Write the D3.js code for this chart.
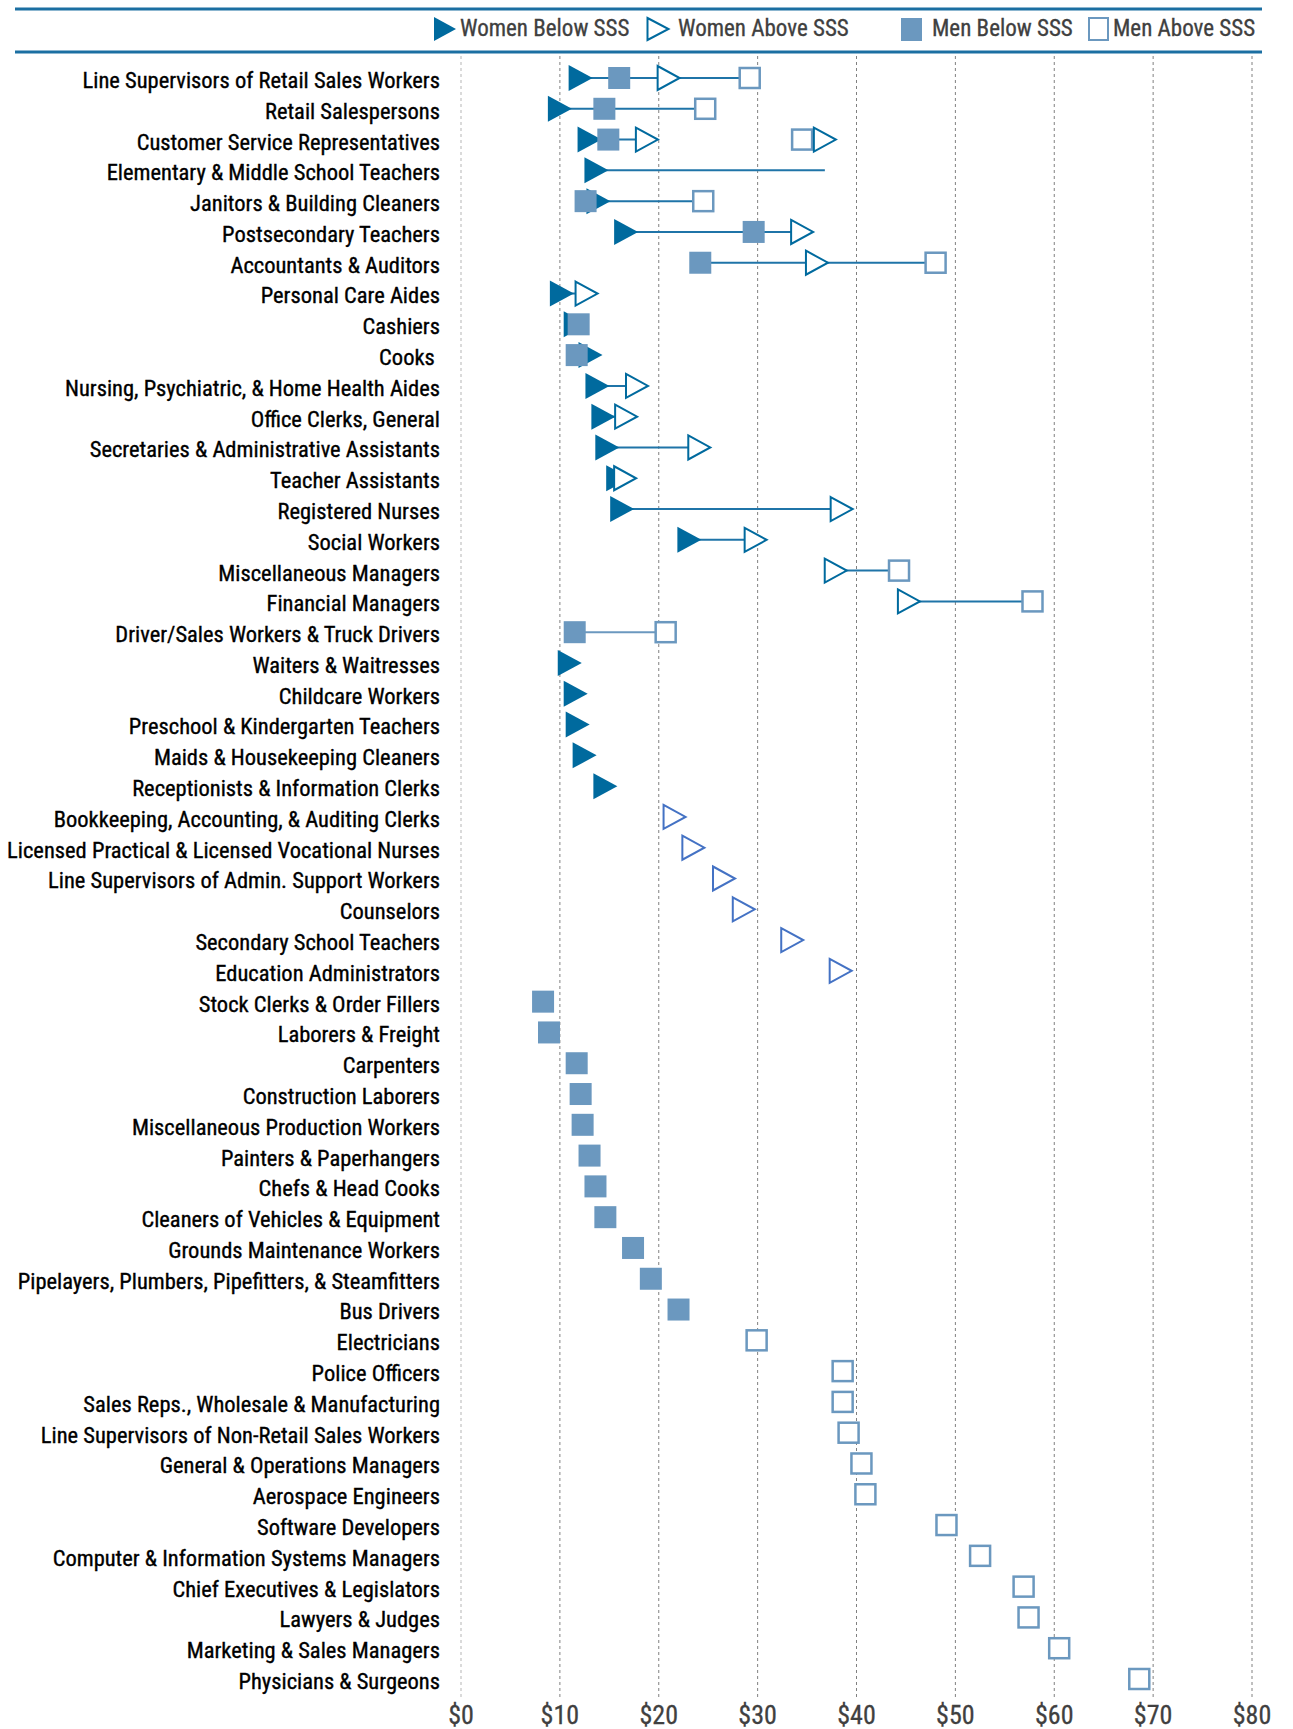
<!DOCTYPE html>
<html>
<head>
<meta charset="utf-8">
<script src="https://cdn.jsdelivr.net/npm/d3@7"></script>
<style>
  body { margin: 0; background: #fff; }
  svg text { font-family: "Liberation Sans Narrow", "Roboto Condensed", "DejaVu Sans Condensed", "Liberation Sans", sans-serif; }
</style>
</head>
<body>
<div id="chart"></div>
<script>
// occupations, top to bottom
const categories = [
  "Line Supervisors of Retail Sales Workers", "Retail Salespersons", "Customer Service Representatives",
  "Elementary & Middle School Teachers", "Janitors & Building Cleaners", "Postsecondary Teachers",
  "Accountants & Auditors", "Personal Care Aides", "Cashiers", "Cooks ",
  "Nursing, Psychiatric, & Home Health Aides", "Office Clerks, General", "Secretaries & Administrative Assistants",
  "Teacher Assistants", "Registered Nurses", "Social Workers", "Miscellaneous Managers", "Financial Managers",
  "Driver/Sales Workers & Truck Drivers", "Waiters & Waitresses", "Childcare Workers",
  "Preschool & Kindergarten Teachers", "Maids & Housekeeping Cleaners", "Receptionists & Information Clerks",
  "Bookkeeping, Accounting, & Auditing Clerks", "Licensed Practical & Licensed Vocational Nurses",
  "Line Supervisors of Admin. Support Workers", "Counselors", "Secondary School Teachers",
  "Education Administrators", "Stock Clerks & Order Fillers", "Laborers & Freight", "Carpenters",
  "Construction Laborers", "Miscellaneous Production Workers", "Painters & Paperhangers", "Chefs & Head Cooks",
  "Cleaners of Vehicles & Equipment", "Grounds Maintenance Workers",
  "Pipelayers, Plumbers, Pipefitters, & Steamfitters", "Bus Drivers", "Electricians", "Police Officers",
  "Sales Reps., Wholesale & Manufacturing", "Line Supervisors of Non-Retail Sales Workers",
  "General & Operations Managers", "Aerospace Engineers", "Software Developers",
  "Computer & Information Systems Managers", "Chief Executives & Legislators", "Lawyers & Judges",
  "Marketing & Sales Managers", "Physicians & Surgeons"
];

// hourly wages ($), aligned with categories, null = no marker
const womenBelow = [12.1, 10.0, 13.0, 13.7, 13.9, 16.7, null, 10.2, 11.6, 13.1,
  13.8, 14.4, 14.8, 15.9, 16.3, 23.1, null, null, null, 11.0,
  11.6, 11.8, 12.5, 14.6];
const womenAbove = [21.0, null, [18.8, 36.8], null, null, 34.5, 36.0, 12.7, null, null,
  17.8, 16.7, 24.1, 16.6, 38.5, 29.8, 37.9, 45.3];
// women-only rows further down (drawn in a lighter blue)
const womenAboveOther = [null, null, null, null, null, null, null, null, null, null,
  null, null, null, null, null, null, null, null, null, null,
  null, null, null, null, 21.6, 23.5, 26.6, 28.6, 33.5, 38.4];
const menBelow = [16.0, 14.5, 14.9, null, 12.6, 29.6, 24.2, null, 11.9, 11.7,
  null, null, null, null, null, null, null, null, 11.5, null,
  null, null, null, null, null, null, null, null, null, null,
  8.3, 8.9, 11.7, 12.1, 12.3, 13.0, 13.6, 14.6, 17.4, 19.2, 22.0];
const menAbove = [29.2, 24.7, 34.5, null, 24.5, null, 48.0, null, null, null,
  null, null, null, null, null, null, 44.3, 57.8, 20.7, null,
  null, null, null, null, null, null, null, null, null, null,
  null, null, null, null, null, null, null, null, null, null,
  null, 29.9, 38.6, 38.6, 39.2, 40.5, 40.9, 49.1, 52.5, 56.9, 57.4, 60.5, 68.6];
// connecting line per row [from, to]
const gapLines = [[12.1, 29.2], [10.0, 24.7], [13.0, 18.8], [13.7, 36.8], [12.6, 24.5], [16.7, 34.5],
  [24.2, 48.0], [10.2, 12.7], null, [11.7, 13.1], [13.8, 17.8], [14.4, 16.7], [14.8, 24.1],
  [15.9, 16.6], [16.3, 38.5], [23.1, 29.8], [37.9, 44.3], [45.3, 57.8], [11.5, 20.7]];

const xTicks = [0, 10, 20, 30, 40, 50, 60, 70, 80];
const legendLabels = ["Women Below SSS", "Women Above SSS", "Men Below SSS", "Men Above SSS"];

const W = 1293, H = 1729;
const womenColor = "#006a9e", menColor = "#6b98bf", otherColor = "#4472c4";

const svg = d3.select("#chart").append("svg")
  .attr("width", W).attr("height", H);

const x = d3.scaleLinear().domain([0, 80]).range([461, 1252]);
const y = d3.scalePoint().domain(categories).range([78, 1679]);

// flatten a series into points
function points(arr) {
  let out = [];
  arr.forEach(function(v, i) {
    if (v === null || v === undefined) return;
    [].concat(v).forEach(function(val) { out.push({ cat: categories[i], v: val }); });
  });
  return out;
}

function triPath(cx, cy, w, h) {
  return "M" + (cx - w / 2) + "," + (cy - h / 2) + "L" + (cx + w / 2) + "," + cy +
    "L" + (cx - w / 2) + "," + (cy + h / 2) + "Z";
}

// header rules
svg.append("line").attr("x1", 15).attr("x2", 1262).attr("y1", 9).attr("y2", 9)
  .attr("stroke", "#1b6fa2").attr("stroke-width", 3);
svg.append("line").attr("x1", 15).attr("x2", 1262).attr("y1", 52).attr("y2", 52)
  .attr("stroke", "#1b6fa2").attr("stroke-width", 3);

// gridlines
svg.append("g").selectAll("line").data(xTicks).join("line")
  .attr("x1", d => x(d)).attr("x2", d => x(d))
  .attr("y1", 56).attr("y2", 1697)
  .attr("stroke", d => d === 0 ? "#b5b5b5" : "#808080")
  .attr("stroke-width", 1)
  .attr("stroke-dasharray", "3,3");

// x axis labels
svg.append("g").selectAll("text").data(xTicks).join("text")
  .attr("x", d => x(d)).attr("y", 1724)
  .attr("text-anchor", "middle")
  .attr("font-size", 26)
  .attr("fill", "#404040")
  .attr("stroke", "#404040").attr("stroke-width", 0.3)
  .text(d => "$" + d);

// category labels
svg.append("g").selectAll("text").data(categories).join("text")
  .attr("x", 440).attr("y", d => y(d) + 4)
  .attr("text-anchor", "end")
  .attr("dominant-baseline", "middle")
  .attr("font-size", 22.5)
  .attr("fill", "#000")
  .attr("stroke", "#000").attr("stroke-width", 0.35)
  .attr("xml:space", "preserve")
  .text(d => d);

// connecting lines
svg.append("g").selectAll("line")
  .data(gapLines.map((g, i) => g ? { cat: categories[i], g: g, women: womenBelow[i] != null || womenAbove[i] != null } : null).filter(d => d))
  .join("line")
  .attr("x1", d => x(d.g[0])).attr("x2", d => x(d.g[1]))
  .attr("y1", d => y(d.cat)).attr("y2", d => y(d.cat))
  .attr("stroke", d => d.women ? "#1f74a8" : menColor)
  .attr("stroke-width", 2);

// women below: filled triangles
svg.append("g").selectAll("path").data(points(womenBelow)).join("path")
  .attr("d", d => triPath(x(d.v), y(d.cat), 24, 26))
  .attr("fill", womenColor);

// men below: filled squares
svg.append("g").selectAll("rect").data(points(menBelow)).join("rect")
  .attr("x", d => x(d.v) - 11).attr("y", d => y(d.cat) - 11)
  .attr("width", 22).attr("height", 22)
  .attr("fill", menColor);

// men above: open squares
svg.append("g").selectAll("rect").data(points(menAbove)).join("rect")
  .attr("x", d => x(d.v) - 10).attr("y", d => y(d.cat) - 10)
  .attr("width", 20).attr("height", 20)
  .attr("fill", "#fff").attr("stroke", menColor).attr("stroke-width", 2.5);

// women above: open triangles
svg.append("g").selectAll("path").data(points(womenAbove)).join("path")
  .attr("d", d => triPath(x(d.v), y(d.cat), 22, 24))
  .attr("fill", "#fff").attr("stroke", womenColor).attr("stroke-width", 2);

svg.append("g").selectAll("path").data(points(womenAboveOther)).join("path")
  .attr("d", d => triPath(x(d.v), y(d.cat), 22, 24))
  .attr("fill", "#fff").attr("stroke", otherColor).attr("stroke-width", 2);

// legend
const legend = svg.append("g");
legend.append("path").attr("d", triPath(445, 29, 22, 24)).attr("fill", womenColor);
legend.append("path").attr("d", triPath(658, 29, 21, 22)).attr("fill", "#fff")
  .attr("stroke", womenColor).attr("stroke-width", 2);
legend.append("rect").attr("x", 901).attr("y", 18).attr("width", 21).attr("height", 23).attr("fill", menColor);
legend.append("rect").attr("x", 1089).attr("y", 18).attr("width", 19).attr("height", 22)
  .attr("fill", "#fff").attr("stroke", menColor).attr("stroke-width", 2);
const legendX = [460, 678, 932, 1113];
legend.selectAll("text").data(legendLabels).join("text")
  .attr("x", (d, i) => legendX[i]).attr("y", 30)
  .attr("dominant-baseline", "middle")
  .attr("font-size", 23)
  .attr("fill", "#404040")
  .attr("stroke", "#404040").attr("stroke-width", 0.3)
  .text(d => d);
</script>
</body>
</html>
